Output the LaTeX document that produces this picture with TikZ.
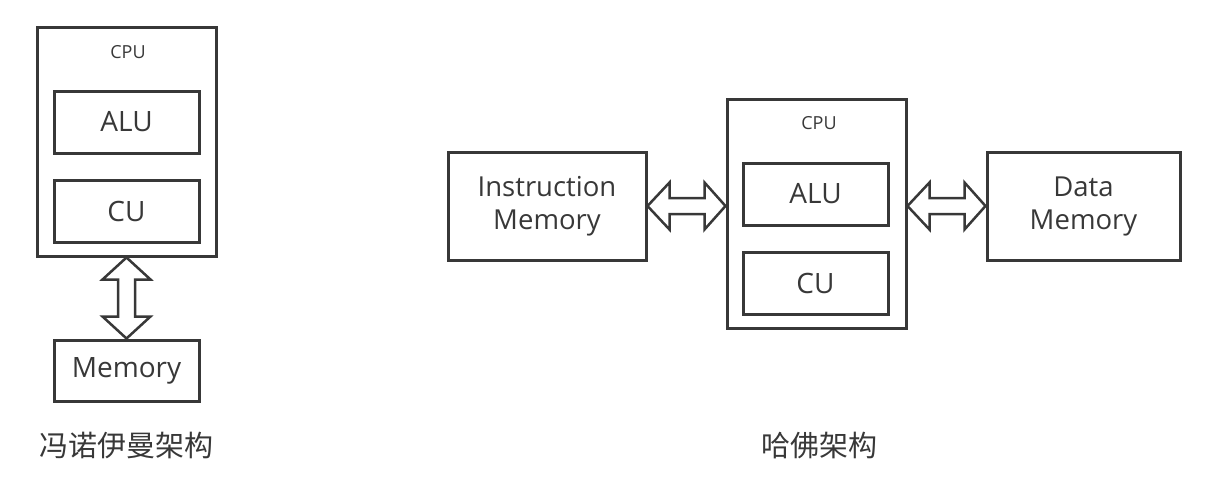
\documentclass[tikz,border=0pt]{standalone}
\usepackage{fontspec}
\setmainfont{Open Sans}
\newfontfamily\cjkfont{Noto Sans CJK SC}
\usetikzlibrary{calc}
\definecolor{ink}{HTML}{383838}

\begin{document}
\begin{tikzpicture}[x=1pt,y=-1pt,
  box/.style={draw=ink,line width=3pt,inner sep=0pt,text=ink},
  unit/.style={box,minimum width=145pt,minimum height=62pt,font=\fontsize{28}{33}\selectfont},
  mem/.style={box,minimum height=108pt,align=center,font=\fontsize{27.5}{33}\selectfont},
  bus/.style={draw=ink,line width=2.5pt,fill=white,line join=miter},
  tag/.style={text=ink,font=\fontsize{18}{20}\selectfont},
  title/.style={text=ink,font=\cjkfont\fontsize{29}{32}\selectfont}]
  \useasboundingbox (0,0) rectangle (1208,480);

  % von Neumann
  \node[box,minimum width=179pt,minimum height=229pt] (cpuA) at (126.5,141.5) {};
  \node[tag] (cpuAtag) at (128,52) {CPU};
  \node[unit] (aluA) at (126.5,122) {ALU};
  \node[unit] (cuA) at (126.5,211) {CU};
  \node[unit,minimum height=61pt] (memA) at (126.5,370.5) {Memory};
  \node[title] (vn) at (126,446) {冯诺伊曼架构};

  \draw[bus] (cpuA.south) -- ++(24,22) -- ++(-15.5,0) -- ($(memA.north)+(8.5,-22)$)
    -- ++(15.5,0) -- (memA.north) -- ++(-24,-22) -- ++(15.5,0)
    -- ($(cpuA.south)+(-8.5,22)$) -- ++(-15.5,0) -- cycle;

  % Harvard
  \node[mem,minimum width=198pt] (imem) at (547,206) {Instruction\\Memory};
  \node[box,minimum width=179pt,minimum height=229pt] (cpuB) at (816.5,213.5) {};
  \node[tag] (cpuBtag) at (819,123) {CPU};
  \node[unit] (aluB) at (815.5,194) {ALU};
  \node[unit] (cuB) at (815.5,283) {CU};
  \node[mem,minimum width=193pt] (dmem) at (1083.5,206) {Data\\Memory};
  \node[title] (hv) at (819.5,446) {哈佛架构};

  \coordinate (inL) at (cpuB.west |- imem.east);
  \coordinate (inR) at (cpuB.east |- dmem.west);

  \draw[bus] (imem.east) -- ++(22,-23.5) -- ++(0,15.5) -- ($(inL)+(-21,-8)$)
    -- ++(0,-15.5) -- (inL) -- ++(-21,23.5) -- ++(0,-15.5)
    -- ($(imem.east)+(22,8)$) -- ++(0,15.5) -- cycle;
  \draw[bus] (inR) -- ++(22,-23.5) -- ++(0,15.5) -- ($(dmem.west)+(-21,-8)$)
    -- ++(0,-15.5) -- (dmem.west) -- ++(-21,23.5) -- ++(0,-15.5)
    -- ($(inR)+(22,8)$) -- ++(0,15.5) -- cycle;
\end{tikzpicture}
\end{document}
